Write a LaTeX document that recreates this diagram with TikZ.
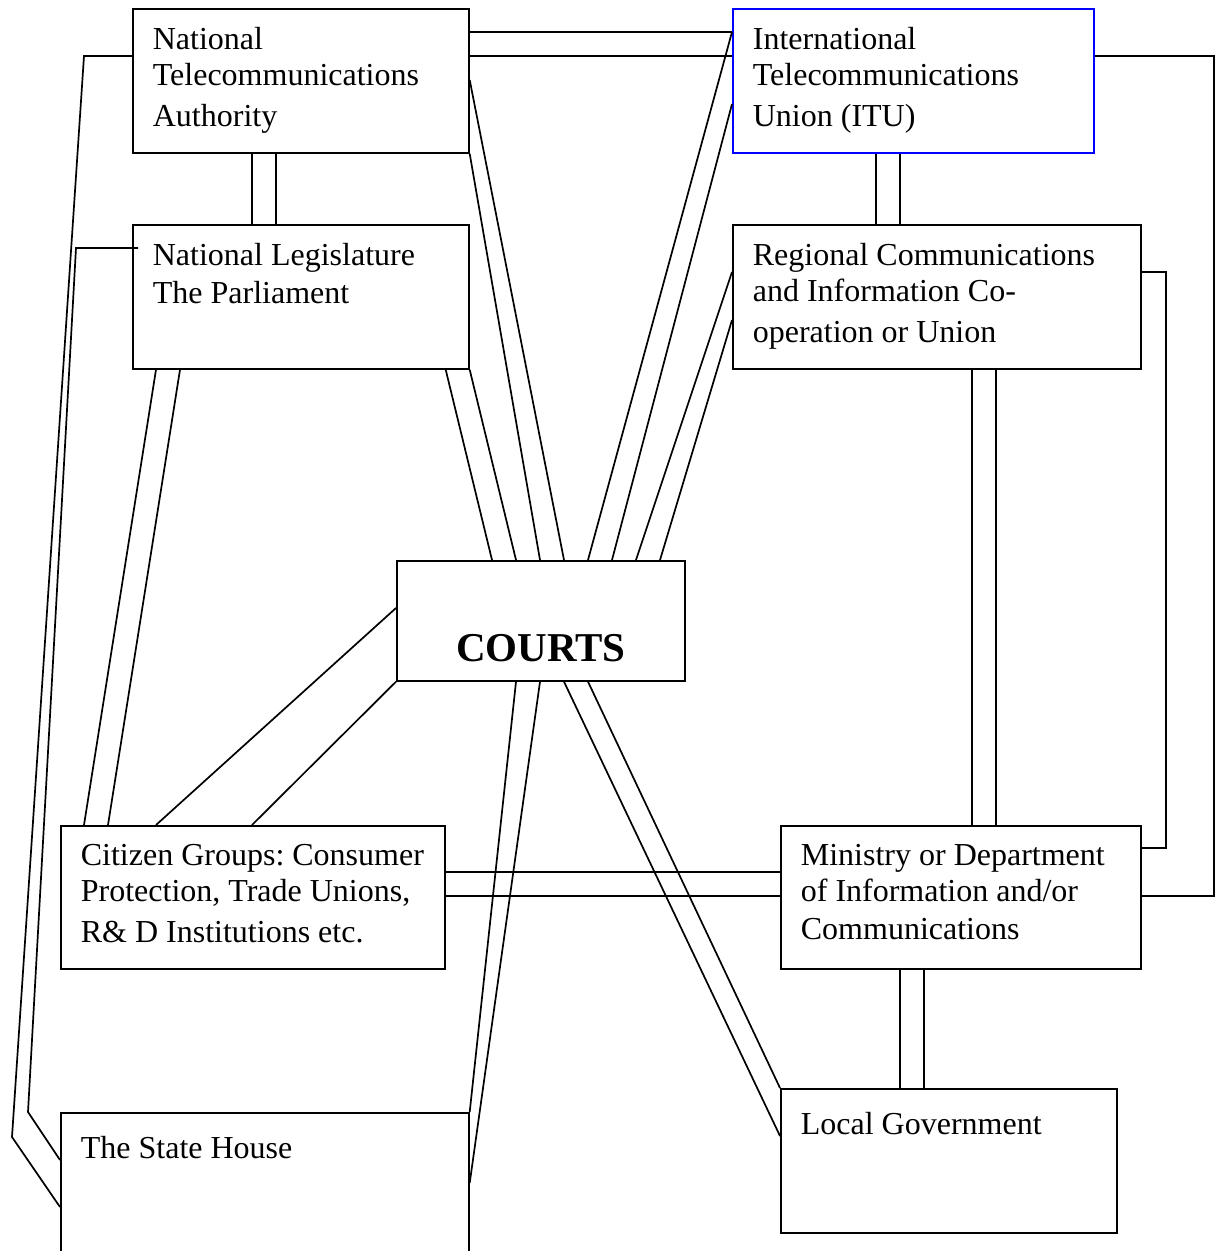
\documentclass[tikz,border=0pt]{standalone}
\usepackage{fontspec}
\setmainfont{Liberation Serif}
\usepackage{xcolor}
\usepackage{tikz}
\usetikzlibrary{calc}

\definecolor{itublue}{RGB}{0,0,255}

\begin{document}
\frenchspacing
\begin{tikzpicture}[x=0.5pt,y=-0.5pt,line width=0.85pt,
        panel/.style={draw=black,rectangle,inner sep=0pt,anchor=north west},
        caption/.style={inner sep=0pt,anchor=north west,align=left,
            font=\fontsize{16}{18}\selectfont}]
            \useasboundingbox (0,0) rectangle (1214,1251);

            \node[panel,minimum width=168pt,minimum height=72pt] (nta) at (132,8) {};
            \node[panel,draw=itublue,minimum width=180.5pt,minimum height=72pt] (itu) at (732,8) {};
            \node[panel,minimum width=168pt,minimum height=72pt] (nl) at (132,224) {};
            \node[panel,minimum width=204pt,minimum height=72pt] (rc) at (732,224) {};
            \node[panel,minimum width=144pt,minimum height=60pt] (courts) at (396,560) {};
            \node[panel,minimum width=192pt,minimum height=71.5pt] (cg) at (60,825) {};
            \node[panel,minimum width=180pt,minimum height=71.5pt] (min) at (780,825) {};
            \node[panel,minimum width=204pt,minimum height=76pt] (sh) at (60,1112) {};
            \node[panel,minimum width=168pt,minimum height=72pt] (lg) at (780,1088) {};

            \node[caption] (ntaText) at ($(nta.north west)+(20,18)$) {National\\Telecommunications\\[2.5pt]Authority};
            \node[caption] (ituText) at ($(itu.north west)+(20,18)$) {International\\Telecommunications\\[2.5pt]Union (ITU)};
            \node[caption] (nlText) at ($(nl.north west)+(20,18)$) {National Legislature\\[1pt]The Parliament};
            \node[caption] (rcText) at ($(rc.north west)+(20,18)$) {Regional Communications\\and Information Co-\\[2.5pt]operation or Union};
            \node[anchor=base,inner sep=0pt,font=\fontsize{20.5}{24}\selectfont\bfseries] (courtsText) at ($(courts.south)+(0,-20)$) {COURTS};
            \node[caption] (cgText) at ($(cg.north west)+(20,18)$) {Citizen Groups: Consumer\\Protection, Trade Unions,\\[2.5pt]R\& D Institutions etc.};
            \node[caption] (minText) at ($(min.north west)+(20,18)$) {Ministry or Department\\of Information and/or\\[1pt]Communications};
            \node[caption] (shText) at ($(sh.north west)+(20,23)$) {The State House};
            \node[caption] (lgText) at ($(lg.north west)+(20,23)$) {Local Government};

            \draw ($(nta.north east)+(0,24)$) -- ($(itu.north west)+(0,24)$);
            \draw ($(nta.north east)+(0,48)$) -- ($(itu.north west)+(0,48)$);
            \draw ($(nta.south west)+(120,0)$) -- ($(nl.north west)+(120,0)$);
            \draw ($(nta.south west)+(144,0)$) -- ($(nl.north west)+(144,0)$);
            \draw ($(itu.south west)+(144,0)$) -- ($(rc.north west)+(144,0)$);
            \draw ($(itu.south west)+(168,0)$) -- ($(rc.north west)+(168,0)$);
            \draw ($(rc.south west)+(240,0)$) -- ($(min.north west)+(192,0)$);
            \draw ($(rc.south west)+(264,0)$) -- ($(min.north west)+(216,0)$);
            \draw ($(min.south west)+(120,0)$) -- ($(lg.north west)+(120,0)$);
            \draw ($(min.south west)+(144,0)$) -- ($(lg.north west)+(144,0)$);
            \draw ($(cg.north east)+(0,47)$) -- ($(min.north west)+(0,47)$);
            \draw ($(cg.north east)+(0,71)$) -- ($(min.north west)+(0,71)$);

            \draw ($(itu.north east)+(0,48)$) -- ++(119,0) |- ($(min.north east)+(0,71)$);
            \draw ($(rc.north east)+(0,48)$) -- ++(24,0) |- ($(min.north east)+(0,23)$);
            \draw ($(nta.north west)+(0,48)$) -- ++(-48,0) -- ($(sh.north west)+(-48,25)$) -- ($(sh.north west)+(0,95)$);
            \draw ($(nl.north west)+(6,24)$) -- ++(-62,0) -- ($(sh.north west)+(-32,0)$) -- ($(sh.north west)+(0,48)$);

            \draw ($(nl.south west)+(24,0)$) -- ($(cg.north west)+(24,0)$);
            \draw ($(nl.south west)+(48,0)$) -- ($(cg.north west)+(48,0)$);
            \draw ($(nl.south east)+(-24,0)$) -- ($(courts.north west)+(96,0)$);
            \draw (nl.south east) -- ($(courts.north west)+(120,0)$);
            \draw (nta.south east) -- ($(courts.north west)+(144,0)$);
            \draw ($(nta.north east)+(0,72)$) -- ($(courts.north west)+(168,0)$);
            \draw ($(itu.north west)+(0,24)$) -- ($(courts.north west)+(192,0)$);
            \draw ($(itu.north west)+(0,96)$) -- ($(courts.north west)+(216,0)$);
            \draw ($(rc.north west)+(0,48)$) -- ($(courts.north west)+(240,0)$);
            \draw ($(rc.north west)+(0,96)$) -- ($(courts.north west)+(264,0)$);

            \draw ($(courts.north west)+(0,48)$) -- ($(cg.north west)+(96,0)$);
            \draw (courts.south west) -- ($(cg.north west)+(192,0)$);
            \draw ($(courts.south west)+(120,0)$) -- (sh.north east);
            \draw ($(courts.south west)+(144,0)$) -- ($(sh.north east)+(0,71)$);
            \draw ($(courts.south west)+(168,0)$) -- ($(lg.north west)+(0,48)$);
            \draw ($(courts.south west)+(192,0)$) -- (lg.north west);
        \end{tikzpicture}
\end{document}
